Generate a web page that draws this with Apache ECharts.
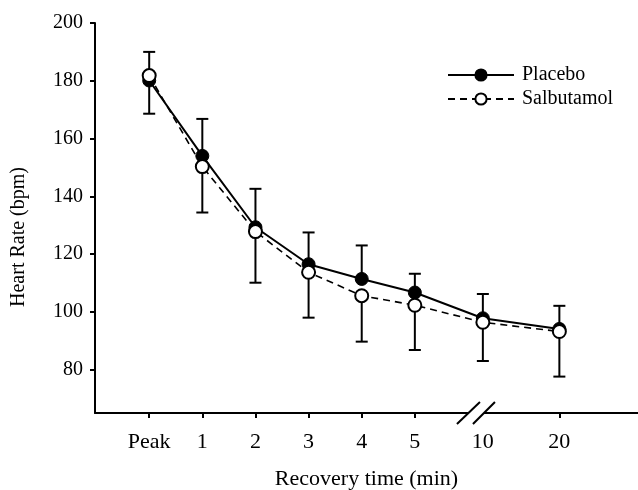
<!DOCTYPE html>
<html>
<head>
<meta charset="utf-8">
<script src="https://cdn.jsdelivr.net/npm/echarts@6/dist/echarts.min.js"></script>
<style>
  html, body { margin: 0; padding: 0; background: #fff; }
  #main { width: 638px; height: 490px; }
</style>
</head>
<body>
<div id="main"></div>
<script>
// time points (x axis is broken between 5 and 10 min)
var categories = ['Peak', '1', '2', '3', '4', '5', '10', '20'];
var xPos = [0, 1, 2, 3, 4, 5, 6.28, 7.72];
var yTicks = [80, 100, 120, 140, 160, 180, 200];

var placebo = [180.1, 154.0, 129.3, 116.5, 111.4, 106.7, 97.8, 94.1];
var placeboUpper = [190.0, 166.8, 142.6, 127.5, 123.0, 113.2, 106.2, 102.1];
var salbutamol = [181.8, 150.3, 127.8, 113.7, 105.6, 102.3, 96.4, 93.2];
var salbutamolLower = [168.6, 134.4, 110.1, 98.0, 89.7, 86.8, 83.0, 77.6];

var FONT = '"Liberation Serif", "Times New Roman", serif';

function pairs(ys) {
  return ys.map(function (y, i) { return [xPos[i], y]; });
}
function triples(ys, bs) {
  return ys.map(function (y, i) { return [xPos[i], y, bs[i]]; });
}

// vertical bar from the mean to the bound, with a cap
function errorBar(params, api) {
  var p0 = api.coord([api.value(0), api.value(1)]);
  var p1 = api.coord([api.value(0), api.value(2)]);
  var hw = 6;
  var st = { stroke: '#000', lineWidth: 2 };
  return {
    type: 'group',
    children: [
      { type: 'line', shape: { x1: p0[0], y1: p0[1], x2: p1[0], y2: p1[1] }, style: st },
      { type: 'line', shape: { x1: p1[0] - hw, y1: p1[1], x2: p1[0] + hw, y2: p1[1] }, style: st }
    ]
  };
}

var chart = echarts.init(document.getElementById('main'), null, { renderer: 'canvas' });

var option = {
  animation: false,
  backgroundColor: '#fff',
  textStyle: { fontFamily: FONT, color: '#000' },
  grid: { left: 95, right: 0, top: 23, bottom: 77, outerBoundsMode: 'none', containLabel: false },
  legend: {
    data: ['Placebo', 'Salbutamol'],
    orient: 'vertical',
    left: 442,
    top: 60,
    itemWidth: 66,
    itemHeight: 14,
    itemGap: 4,
    textStyle: { fontFamily: FONT, fontSize: 20, color: '#000', padding: [0, 0, 0, 3] }
  },
  xAxis: {
    type: 'value',
    min: -1.02,
    max: 9.2,
    name: 'Recovery time (min)',
    nameLocation: 'middle',
    nameGap: 55,
    nameTextStyle: { fontFamily: FONT, fontSize: 22, color: '#000' },
    splitLine: { show: false },
    axisLine: { onZero: false, lineStyle: { color: '#000', width: 2 } },
    axisTick: {
      customValues: [0, 1, 2, 3, 4, 5, 7.72],
      length: 5,
      lineStyle: { color: '#000', width: 2 }
    },
    axisLabel: {
      customValues: xPos,
      margin: 18,
      fontFamily: FONT,
      fontSize: 22,
      color: '#000',
      formatter: function (v) {
        var best = 0;
        for (var i = 0; i < xPos.length; i++) {
          if (Math.abs(xPos[i] - v) < Math.abs(xPos[best] - v)) best = i;
        }
        return categories[best];
      }
    }
  },
  yAxis: {
    type: 'value',
    min: 65,
    max: 200,
    name: 'Heart Rate (bpm)',
    nameLocation: 'middle',
    nameGap: 66,
    nameTextStyle: { fontFamily: FONT, fontSize: 20, color: '#000', padding: [0, 38, 0, 0] },
    splitLine: { show: false },
    axisLine: { onZero: false, lineStyle: { color: '#000', width: 2 } },
    axisTick: {
      customValues: yTicks,
      length: 5,
      lineStyle: { color: '#000', width: 2 }
    },
    axisLabel: {
      customValues: yTicks,
      margin: 12,
      fontFamily: FONT,
      fontSize: 20,
      color: '#000'
    }
  },
  series: [
    {
      name: 'Placebo SD',
      type: 'custom',
      renderItem: errorBar,
      encode: { x: 0, y: 1 },
      data: triples(placebo, placeboUpper),
      clip: false,
      z: 1
    },
    {
      name: 'Salbutamol SD',
      type: 'custom',
      renderItem: errorBar,
      encode: { x: 0, y: 1 },
      data: triples(salbutamol, salbutamolLower),
      clip: false,
      z: 1
    },
    {
      name: 'Placebo',
      type: 'line',
      data: pairs(placebo),
      symbol: 'circle',
      symbolSize: 13,
      lineStyle: { color: '#000', width: 2 },
      itemStyle: { color: '#000', borderColor: '#000', borderWidth: 1 },
      z: 2
    },
    {
      name: 'Salbutamol',
      type: 'line',
      data: pairs(salbutamol),
      symbol: 'circle',
      symbolSize: 13,
      lineStyle: { color: '#000', width: 1.6, type: [7, 5] },
      itemStyle: { color: '#fff', borderColor: '#000', borderWidth: 2 },
      z: 3
    }
  ]
};

chart.setOption(option);

// axis break marks around the 5 -> 10 gap
var bc = chart.convertToPixel({ gridIndex: 0 }, [6.15, 65]);
var slash = { stroke: '#000', lineWidth: 2 };
chart.setOption({
  graphic: [
    { type: 'rect', shape: { x: bc[0] - 8, y: bc[1] - 3, width: 16, height: 6 }, style: { fill: '#fff' }, z: 100 },
    { type: 'line', shape: { x1: bc[0] - 19, y1: bc[1] + 11, x2: bc[0] + 4, y2: bc[1] - 11 }, style: slash, z: 101 },
    { type: 'line', shape: { x1: bc[0] - 3, y1: bc[1] + 11, x2: bc[0] + 19, y2: bc[1] - 11 }, style: slash, z: 101 }
  ]
});
</script>
</body>
</html>
